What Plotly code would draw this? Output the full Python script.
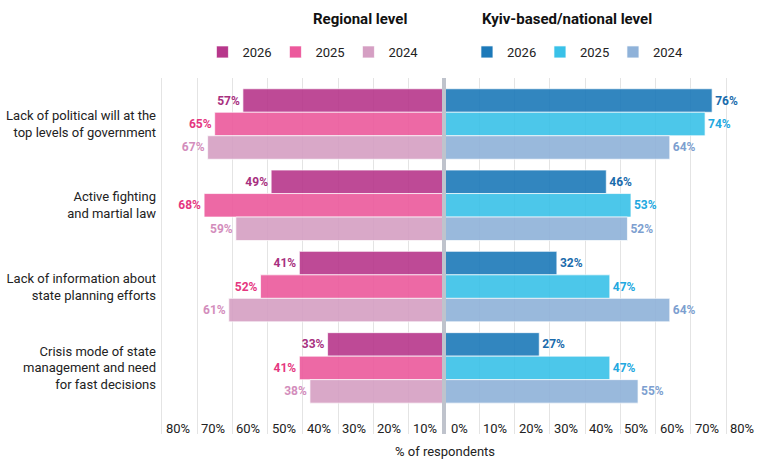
import plotly.graph_objects as go

categories = [
    "Lack of political will at the<br>top levels of government",
    "Active fighting<br>and martial law",
    "Lack of information about<br>state planning efforts",
    "Crisis mode of state<br>management and need<br>for fast decisions",
]
years = ["2026", "2025", "2024"]

regional_2026 = [57, 49, 41, 33]
regional_2025 = [65, 68, 52, 41]
regional_2024 = [67, 59, 61, 38]

national_2026 = [76, 46, 32, 27]
national_2025 = [74, 53, 47, 47]
national_2024 = [64, 52, 64, 55]

tick_values = [-80, -70, -60, -50, -40, -30, -20, -10, 0, 10, 20, 30, 40, 50, 60, 70, 80]
tick_labels = ["80%", "70%", "60%", "50%", "40%", "30%", "20%", "10%", "0%",
               "10%", "20%", "30%", "40%", "50%", "60%", "70%", "80%"]

regional = [regional_2026, regional_2025, regional_2024]
national = [national_2026, national_2025, national_2024]

reg_bar_colors = ["#B7378B", "#EC599C", "#D59FC3"]
reg_txt_colors = ["#A8307F", "#E5377F", "#D38DBC"]
nat_bar_colors = ["#1C79B9", "#39C1E8", "#8FB2D9"]
nat_txt_colors = ["#1A6BAC", "#22A8DF", "#7D9FD0"]

FONT = "Roboto"

# geometry helpers (pixel -> coordinates)
W, H = 764, 464
PL, PR = 159.5, 728.5          # plot area left/right px
PT, PB = 78, 434               # plot area top/bottom px
X0PX = 444.0
PXU = (PR - PL) / 161.0        # px per percent
CAT_PX = 81.3                  # px per category


def xp(px):
    return (px - X0PX) / PXU


def yp(py):
    return (PB - py) / (PB - PT)


fig = go.Figure()

for i, yr in enumerate(years):
    vals = regional[i]
    fig.add_trace(go.Bar(
        y=categories, x=[-v for v in vals], orientation="h", name=yr,
        offsetgroup=yr, legend="legend",
        marker=dict(color=reg_bar_colors[i], opacity=0.9,
                    line=dict(color="rgba(255,255,255,0.7)", width=1)),
        text=[f"{v}%" for v in vals], textposition="outside",
        textfont=dict(family=FONT, size=12, color=reg_txt_colors[i], weight="bold"),
        constraintext="none", cliponaxis=False, hoverinfo="skip",
    ))

for i, yr in enumerate(years):
    vals = national[i]
    fig.add_trace(go.Bar(
        y=categories, x=vals, orientation="h", name=yr,
        offsetgroup=yr, legend="legend2",
        marker=dict(color=nat_bar_colors[i], opacity=0.9,
                    line=dict(color="rgba(255,255,255,0.7)", width=1)),
        text=[f"{v}%" for v in vals], textposition="outside",
        textfont=dict(family=FONT, size=12, color=nat_txt_colors[i], weight="bold"),
        constraintext="none", cliponaxis=False, hoverinfo="skip",
    ))

annotations = []
for v, t in zip(tick_values, tick_labels):
    annotations.append(dict(
        x=v, xref="x", y=yp(428), yref="paper", text=t, showarrow=False,
        xanchor="left", yanchor="middle", xshift=5 if v == 0 else 2,
        font=dict(family=FONT, size=13, color="#222222"),
    ))

annotations += [
    dict(x=xp(409), xref="x", y=yp(19), yref="paper", text="<b>Regional level</b>",
         showarrow=False, xanchor="right", yanchor="middle",
         font=dict(family=FONT, size=15, color="#111111")),
    dict(x=xp(480), xref="x", y=yp(19), yref="paper", text="<b>Kyiv-based/national level</b>",
         showarrow=False, xanchor="left", yanchor="middle",
         font=dict(family=FONT, size=15, color="#111111")),
    dict(x=xp(445), xref="x", y=yp(451), yref="paper", text="% of respondents",
         showarrow=False, xanchor="center", yanchor="middle",
         font=dict(family=FONT, size=13, color="#222222")),
]

legend_common = dict(
    orientation="h", yref="container", y=1 - 52 / H, yanchor="middle",
    xref="paper", xanchor="left", font=dict(family=FONT, size=13, color="#222222"),
    bgcolor="rgba(0,0,0,0)", entrywidth=28, entrywidthmode="pixels",
    itemclick=False, itemdoubleclick=False, tracegroupgap=0,
)

y_top = -(124 - PT) / CAT_PX
y_bot = y_top + (PB - PT) / CAT_PX

fig.update_layout(
    width=W, height=H,
    margin=dict(l=PL, r=W - PR, t=PT, b=H - PB, pad=0, autoexpand=False),
    paper_bgcolor="white", plot_bgcolor="white",
    barmode="group", bargap=0.133, bargroupgap=0,
    showlegend=True,
    legend=dict(**legend_common, x=(202 - PL) / (PR - PL)),
    legend2=dict(**legend_common, x=(467 - PL) / (PR - PL)),
    xaxis=dict(range=[-80.5, 80.5], tickvals=[v for v in tick_values if v != 0],
               showticklabels=False, showgrid=True, gridcolor="#E4E4E4", gridwidth=1,
               zeroline=False, showline=False, ticks="", fixedrange=True,
               automargin=False),
    yaxis=dict(range=[y_bot, y_top],
               tickfont=dict(family=FONT, size=13, color="#222222"),
               showgrid=False, zeroline=False, showline=False, ticks="",
               ticklabelstandoff=3, fixedrange=True, automargin=False),
    annotations=annotations,
    shapes=[dict(type="line", x0=0, x1=0, xref="x", y0=0, y1=1, yref="paper",
                 line=dict(color="#BFC3CC", width=4), layer="above")],
    font=dict(family=FONT),
)

fig.write_html("out.html")
